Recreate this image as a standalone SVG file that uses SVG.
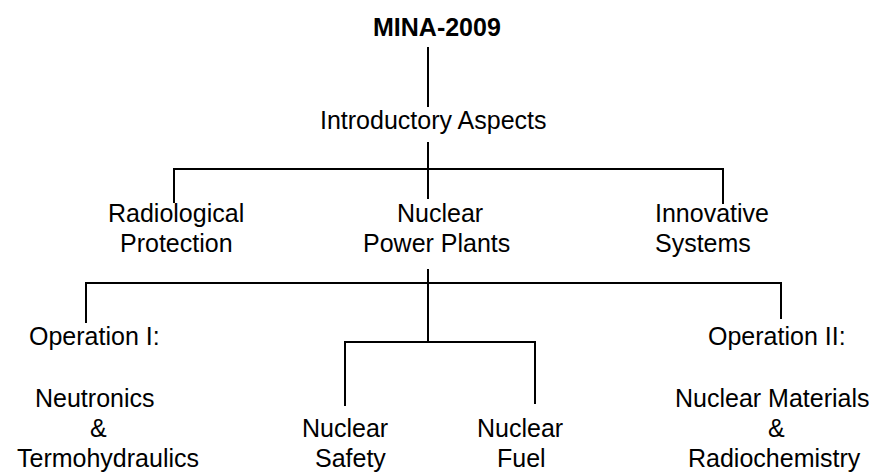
<svg xmlns="http://www.w3.org/2000/svg" width="869" height="472" viewBox="0 0 869 472">
<style>
text{font-family:"Liberation Sans",Arial,sans-serif;font-size:25px;fill:#000}
.b{font-weight:bold}
.c line{stroke:#000;stroke-width:2;stroke-linecap:square}
</style>
<rect width="869" height="472" fill="#fff"/>
<g class="c" id="connectors">
<line x1="428" y1="48" x2="428" y2="106"/>
<line x1="428" y1="143" x2="428" y2="198"/>
<line x1="174" y1="169" x2="723" y2="169"/>
<line x1="174" y1="169" x2="174" y2="202"/>
<line x1="723" y1="169" x2="723" y2="203"/>
<line x1="428" y1="270" x2="428" y2="342"/>
<line x1="86" y1="283" x2="781" y2="283"/>
<line x1="86" y1="283" x2="86" y2="322"/>
<line x1="781" y1="283" x2="781" y2="318"/>
<line x1="345" y1="342" x2="535" y2="342"/>
<line x1="345" y1="342" x2="345" y2="405"/>
<line x1="535" y1="342" x2="535" y2="403"/>
</g>
<g id="root"><text class="b" x="373" y="36">MINA-2009</text></g>
<g id="intro"><text x="320" y="129">Introductory Aspects</text></g>
<g id="radio"><text x="108" y="222">Radiological</text><text x="120" y="252">Protection</text></g>
<g id="npp"><text x="397" y="222">Nuclear</text><text x="363" y="252">Power Plants</text></g>
<g id="innov"><text x="655" y="222">Innovative</text><text x="655" y="252">Systems</text></g>
<g id="op1"><text x="29" y="345">Operation I:</text><text x="35" y="407">Neutronics</text><text x="90" y="437">&amp;</text><text x="17" y="467">Termohydraulics</text></g>
<g id="safety"><text x="302" y="437">Nuclear</text><text x="315" y="467">Safety</text></g>
<g id="fuel"><text x="477" y="437">Nuclear</text><text x="497" y="467">Fuel</text></g>
<g id="op2"><text x="708" y="345">Operation II:</text><text x="675" y="407">Nuclear Materials</text><text x="768" y="437">&amp;</text><text x="688" y="467">Radiochemistry</text></g>
</svg>
